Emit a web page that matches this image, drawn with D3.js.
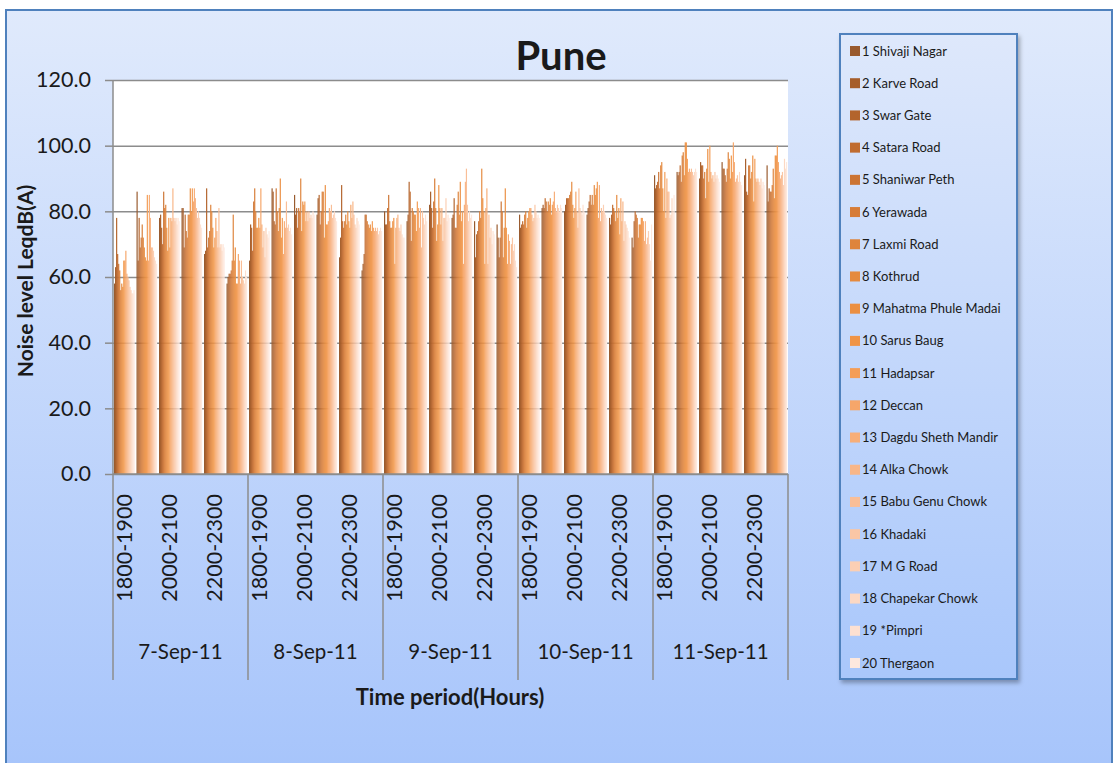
<!DOCTYPE html>
<html>
<head>
<meta charset="utf-8">
<script src="https://cdn.jsdelivr.net/npm/d3@7"></script>
<style>
  body { margin: 0; background: #fff; }
  text { font-family: Lato, "Open Sans", sans-serif; fill: #1a1a1a; }
</style>
</head>
<body>
<svg id="chart"></svg>
<script>
// days on the x axis, periods inside each day
const days = ["7-Sep-11", "8-Sep-11", "9-Sep-11", "10-Sep-11", "11-Sep-11"];
const periods = ["1800-1900", "1900-2000", "2000-2100", "2100-2200", "2200-2300", "2300-2400"];
const shownPeriods = ["1800-1900", "2000-2100", "2200-2300"];

const stations = [
  "1 Shivaji Nagar", "2 Karve Road", "3 Swar Gate", "4 Satara Road", "5 Shaniwar Peth",
  "6 Yerawada", "7 Laxmi Road", "8 Kothrud", "9 Mahatma Phule Madai", "10 Sarus Baug",
  "11 Hadapsar", "12 Deccan", "13 Dagdu Sheth Mandir", "14 Alka Chowk", "15 Babu Genu Chowk",
  "16 Khadaki", "17 M G Road", "18 Chapekar Chowk", "19 *Pimpri", "20 Thergaon"
];

const yTicks = [0, 20, 40, 60, 80, 100, 120];

// Leq dB(A) per period (rows) and station (columns)
const sep7 = [
  [58, 63, 78, 67, 64, 62, 56, 58, 57, 65, 65, 68, 61, 60, 59, 57, 56, 55, 55, 56],
  [86, 65, 78, 69, 72, 76, 72, 69, 66, 65, 85, 65, 85, 78, 69, 69, 68, 66, 65, 64],
  [78, 79, 75, 70, 86, 81, 82, 75, 68, 78, 69, 78, 77, 87, 78, 77, 78, 76, 78, 77],
  [81, 81, 69, 79, 74, 72, 79, 79, 87, 80, 87, 83, 87, 84, 81, 78, 80, 78, 76, 75],
  [67, 68, 87, 69, 72, 74, 82, 80, 75, 69, 72, 78, 74, 69, 81, 69, 70, 68, 70, 69],
  [58, 60, 61, 61, 62, 65, 79, 65, 69, 58, 58, 67, 65, 58, 65, 60, 59, 58, 62, 60]
];
const sep8 = [
  [65, 76, 75, 68, 83, 87, 80, 75, 75, 78, 75, 87, 76, 69, 74, 66, 75, 73, 72, 74],
  [87, 86, 77, 76, 87, 80, 74, 81, 90, 72, 78, 67, 77, 75, 83, 75, 76, 74, 75, 73],
  [85, 79, 81, 75, 81, 80, 90, 74, 83, 82, 83, 77, 80, 77, 80, 78, 79, 78, 80, 79],
  [79, 84, 85, 76, 80, 86, 86, 72, 88, 76, 76, 77, 81, 80, 82, 78, 79, 80, 78, 77],
  [66, 72, 88, 77, 75, 77, 79, 76, 80, 77, 75, 82, 78, 83, 79, 76, 75, 78, 77, 76],
  [62, 64, 67, 79, 79, 77, 76, 75, 76, 74, 77, 75, 74, 75, 74, 75, 73, 74, 75, 74]
];
const sep9 = [
  [80, 76, 76, 81, 85, 77, 75, 75, 77, 78, 64, 75, 78, 79, 75, 74, 76, 73, 72, 72],
  [77, 79, 89, 86, 71, 81, 80, 79, 79, 74, 83, 81, 75, 81, 69, 80, 78, 76, 79, 77],
  [82, 86, 81, 75, 83, 90, 81, 71, 76, 88, 81, 76, 81, 71, 78, 78, 84, 77, 79, 78],
  [78, 79, 84, 75, 75, 82, 86, 79, 89, 77, 80, 64, 82, 89, 93, 82, 77, 80, 78, 79],
  [77, 66, 73, 74, 77, 80, 78, 93, 84, 80, 64, 81, 87, 64, 79, 72, 75, 70, 74, 73],
  [76, 72, 66, 72, 83, 80, 66, 75, 87, 75, 64, 73, 71, 64, 70, 72, 68, 70, 65, 63]
];
const sep10 = [
  [79, 75, 76, 77, 76, 79, 80, 75, 78, 80, 81, 81, 79, 77, 78, 82, 80, 78, 79, 78],
  [81, 82, 81, 84, 83, 80, 83, 82, 84, 79, 82, 83, 86, 81, 80, 82, 81, 80, 82, 81],
  [80, 82, 84, 84, 84, 85, 86, 89, 82, 78, 81, 86, 80, 75, 87, 81, 80, 79, 82, 80],
  [79, 81, 83, 85, 82, 85, 82, 88, 85, 87, 89, 78, 88, 77, 81, 80, 82, 80, 79, 78],
  [78, 76, 79, 82, 81, 80, 77, 85, 78, 81, 73, 84, 77, 83, 71, 77, 76, 75, 74, 72],
  [72, 69, 77, 80, 79, 78, 72, 76, 76, 78, 78, 77, 71, 77, 70, 72, 74, 70, 65, 76]
];
const sep11 = [
  [91, 87, 88, 89, 92, 87, 94, 95, 87, 80, 92, 78, 90, 86, 86, 78, 79, 84, 80, 85],
  [92, 91, 92, 94, 89, 97, 98, 91, 101, 101, 96, 92, 93, 92, 93, 92, 91, 92, 93, 92],
  [90, 95, 94, 94, 90, 92, 84, 93, 99, 89, 100, 92, 90, 91, 89, 92, 90, 91, 90, 89],
  [95, 93, 93, 91, 89, 93, 98, 96, 90, 97, 92, 101, 95, 89, 90, 91, 89, 92, 89, 88],
  [91, 96, 86, 85, 94, 94, 90, 92, 97, 83, 96, 90, 89, 90, 89, 88, 90, 87, 89, 88],
  [94, 83, 87, 86, 86, 88, 93, 84, 97, 97, 100, 95, 92, 90, 91, 92, 88, 96, 93, 95]
];
const dayValues = [sep7, sep8, sep9, sep10, sep11];

const stationColors = [
  "#995a2e", "#a65d2a", "#b3642c", "#c06c30", "#cc7433",
  "#d77c37", "#de843b", "#e58a3e", "#eb8f42", "#f09446",
  "#f49d56", "#f6a66a", "#f7ae78", "#f8b688", "#f9be97",
  "#fac6a5", "#fbcfb4", "#fcd8c3", "#fde0d1", "#fde8de"
];

let width = 1115;
let height = 763;

let plotLeft = 113;
let plotRight = 788;
let plotTop = 80;
let plotBottom = 474;

let svg = d3.select("#chart").attr("width", width).attr("height", height);

// background gradients
let defs = svg.append("defs");
let bg = defs.append("linearGradient").attr("id", "bgGrad")
  .attr("x1", 0).attr("y1", 0).attr("x2", 0).attr("y2", 1);
bg.append("stop").attr("offset", "0%").attr("stop-color", "#e0eafc");
bg.append("stop").attr("offset", "100%").attr("stop-color", "#a6c4fb");

let lg = defs.append("linearGradient").attr("id", "legGrad")
  .attr("x1", 0).attr("y1", 0).attr("x2", 0).attr("y2", 1);
lg.append("stop").attr("offset", "0%").attr("stop-color", "#dee8fb");
lg.append("stop").attr("offset", "100%").attr("stop-color", "#a9c7fb");

let shadow = defs.append("filter").attr("id", "shadow")
  .attr("x", "-10%").attr("y", "-10%").attr("width", "130%").attr("height", "130%");
shadow.append("feDropShadow").attr("dx", 2).attr("dy", 3).attr("stdDeviation", 2)
  .attr("flood-color", "#000").attr("flood-opacity", 0.3);

svg.append("rect")
  .attr("x", 6).attr("y", 10)
  .attr("width", 1106).attr("height", 770)
  .attr("fill", "url(#bgGrad)")
  .attr("stroke", "#4f81bd").attr("stroke-width", 2);

// rows flattened: one per day/period
let rows = [];
days.forEach((day, di) => {
  periods.forEach((p, pi) => {
    rows.push({ key: day + "|" + p, day: day, period: p, values: dayValues[di][pi] });
  });
});

let x0 = d3.scaleBand()
  .domain(rows.map((r) => r.key))
  .range([plotLeft, plotRight])
  .paddingInner(0.09)
  .paddingOuter(0.045);

let x1 = d3.scaleBand()
  .domain(stations)
  .range([0, x0.bandwidth()]);

let y = d3.scaleLinear().domain([0, 120]).range([plotBottom, plotTop]);

let color = d3.scaleOrdinal().domain(stations).range(stationColors);

// plot area
svg.append("rect")
  .attr("x", plotLeft).attr("y", plotTop)
  .attr("width", plotRight - plotLeft).attr("height", plotBottom - plotTop)
  .attr("fill", "#fff");

// y axis with gridlines
let yAxis = d3.axisLeft(y)
  .tickValues(yTicks)
  .tickSize(plotLeft - plotRight)
  .tickPadding(22)
  .tickFormat(d3.format(".1f"));

let yg = svg.append("g")
  .attr("transform", "translate(" + plotLeft + ",0)")
  .call(yAxis);
yg.select(".domain").remove();
yg.selectAll(".tick line").attr("stroke", "#8c8c8c").attr("stroke-width", 1.5);
yg.selectAll(".tick text").style("font-size", "21.5px").attr("fill", "#1a1a1a");
// small outer ticks
yg.selectAll(".tick").append("line")
  .attr("x1", -8).attr("x2", 0)
  .attr("stroke", "#8c8c8c").attr("stroke-width", 1.5);

// bars
let groups = svg.append("g").selectAll("g")
  .data(rows)
  .join("g")
  .attr("transform", (d) => "translate(" + x0(d.key) + ",0)");

groups.selectAll("rect")
  .data((d) => d.values.map((v, i) => ({ station: stations[i], value: v })))
  .join("rect")
  .attr("x", (d) => x1(d.station))
  .attr("width", x1.bandwidth() + 0.15)
  .attr("y", (d) => y(d.value))
  .attr("height", (d) => y(0) - y(d.value))
  .attr("fill", (d) => color(d.station));

// left axis line
svg.append("line")
  .attr("x1", plotLeft).attr("x2", plotLeft)
  .attr("y1", plotTop).attr("y2", plotBottom)
  .attr("stroke", "#8c8c8c").attr("stroke-width", 1.5);

// bottom axis line
svg.append("line")
  .attr("x1", plotLeft).attr("x2", plotRight)
  .attr("y1", plotBottom).attr("y2", plotBottom)
  .attr("stroke", "#8c8c8c").attr("stroke-width", 1.5);

// day separators
let dayScale = d3.scaleBand().domain(days).range([plotLeft, plotRight]);
svg.append("g").selectAll("line")
  .data(days.concat(["end"]))
  .join("line")
  .attr("x1", (d, i) => plotLeft + i * dayScale.bandwidth())
  .attr("x2", (d, i) => plotLeft + i * dayScale.bandwidth())
  .attr("y1", plotBottom).attr("y2", 680)
  .attr("stroke", "#8c8c8c").attr("stroke-width", 1.5);

// period labels (every other)
svg.append("g").selectAll("text")
  .data(rows.filter((r) => shownPeriods.includes(r.period)))
  .join("text")
  .attr("transform", (d) =>
    "translate(" + (x0(d.key) + x0.bandwidth() / 2 + 8) + "," + 494 + ") rotate(-90)")
  .attr("text-anchor", "end")
  .style("font-size", "21.5px")
  .text((d) => d.period);

// day labels
svg.append("g").selectAll("text")
  .data(days)
  .join("text")
  .attr("x", (d) => dayScale(d) + dayScale.bandwidth() / 2)
  .attr("y", 659)
  .attr("text-anchor", "middle")
  .style("font-size", "20.5px")
  .text((d) => d);

// titles
svg.append("text")
  .attr("x", 561).attr("y", 70)
  .attr("text-anchor", "middle")
  .style("font-size", "40px").style("font-weight", "bold")
  .text("Pune");

svg.append("text")
  .attr("transform", "translate(33,281) rotate(-90)")
  .attr("text-anchor", "middle")
  .style("font-size", "21px").style("font-weight", "bold")
  .text("Noise level LeqdB(A)");

svg.append("text")
  .attr("x", 450).attr("y", 705)
  .attr("text-anchor", "middle")
  .style("font-size", "22px").style("font-weight", "bold")
  .text("Time period(Hours)");

// legend
let legend = svg.append("g");
legend.append("rect")
  .attr("x", 840).attr("y", 34)
  .attr("width", 177).attr("height", 645)
  .attr("fill", "url(#legGrad)")
  .attr("stroke", "#4f81bd").attr("stroke-width", 2)
  .attr("filter", "url(#shadow)");

let legY = d3.scalePoint().domain(stations).range([51, 663]);

let items = legend.selectAll("g.item")
  .data(stations)
  .join("g")
  .attr("class", "item")
  .attr("transform", (d) => "translate(850," + legY(d) + ")");

items.append("rect")
  .attr("x", 0).attr("y", -5)
  .attr("width", 10).attr("height", 10)
  .attr("fill", (d) => color(d));

items.append("text")
  .attr("x", 12).attr("y", 4.5)
  .style("font-size", "13px")
  .attr("fill", "#262626")
  .text((d) => d);
</script>
</body>
</html>
